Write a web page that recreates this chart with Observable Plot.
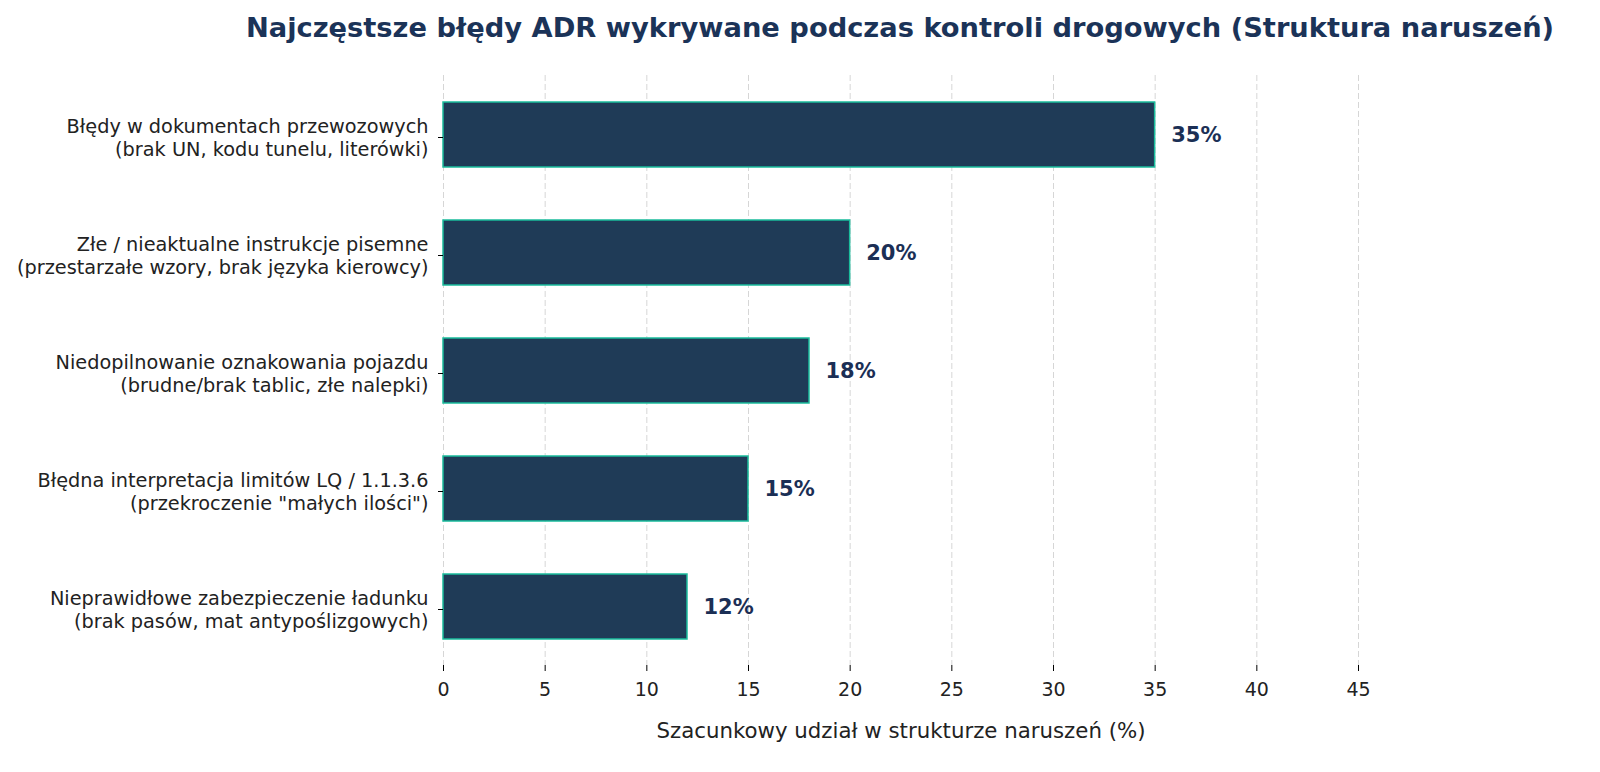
<!DOCTYPE html>
<html>
<head>
<meta charset="utf-8">
<script src="https://cdn.jsdelivr.net/npm/d3@7"></script>
<script src="https://cdn.jsdelivr.net/npm/@observablehq/plot@0.6"></script>
<style>
  html, body { margin: 0; padding: 0; background: #fff; overflow: hidden; font-family: "DejaVu Sans", sans-serif; }
  #title { height: 55px; line-height: 55px; text-align: center; font-weight: bold; font-size: 27.3px; color: #1b3358; padding-left: 200px; box-sizing: border-box; white-space: nowrap; font-family: "DejaVu Sans", sans-serif; }
  #chart svg { display: block; }
</style>
</head>
<body>
<div id="title">Najczęstsze błędy ADR wykrywane podczas kontroli drogowych (Struktura naruszeń)</div>
<div id="chart"></div>
<script>
const categories = [
  "Błędy w dokumentach przewozowych\n(brak UN, kodu tunelu, literówki)",
  "Złe / nieaktualne instrukcje pisemne\n(przestarzałe wzory, brak języka kierowcy)",
  "Niedopilnowanie oznakowania pojazdu\n(brudne/brak tablic, złe nalepki)",
  "Błędna interpretacja limitów LQ / 1.1.3.6\n(przekroczenie \"małych ilości\")",
  "Nieprawidłowe zabezpieczenie ładunku\n(brak pasów, mat antypoślizgowych)"
];
const shares = [35, 20, 18, 15, 12];
const xTicks = [0, 5, 10, 15, 20, 25, 30, 35, 40, 45];
const xLabel = "Szacunkowy udział w strukturze naruszeń (%)";

const data = categories.map((c, i) => ({category: c, value: shares[i]}));

const chart = Plot.plot({
  width: 1600,
  height: 717,
  marginTop: 20,
  marginBottom: 107,
  marginLeft: 443,
  marginRight: 242,
  style: {fontFamily: "'DejaVu Sans', sans-serif", background: "#fff"},
  x: {domain: [0, 45]},
  y: {domain: categories, paddingInner: 0.45, paddingOuter: 0.225},
  marks: [
    Plot.gridX(xTicks, {stroke: "#cccccc", strokeOpacity: 0.8, strokeDasharray: "6,3", strokeWidth: 1}),
    Plot.barX(data, {y: "category", x: "value", fill: "#1f3b57", stroke: "#1abc9c", strokeWidth: 1.5}),
    Plot.text(data, {y: "category", x: "value", text: d => d.value + "%", dx: 16, textAnchor: "start", fontWeight: "bold", fontSize: 21, fill: "#1b2f55"}),
    Plot.axisX({ticks: xTicks, tickSize: 6, tickPadding: 11, fontSize: 19, fill: "#222", label: null}),
    Plot.text([xLabel], {frameAnchor: "bottom", dy: 72, fontSize: 21.3, fill: "#222"}),
    Plot.axisY({tickSize: 5, tickPadding: 10, fontSize: 19.3, fill: "#222", lineHeight: 1.2, dy: 2.5, label: null})
  ]
});
document.getElementById("chart").appendChild(chart);
</script>
</body>
</html>
